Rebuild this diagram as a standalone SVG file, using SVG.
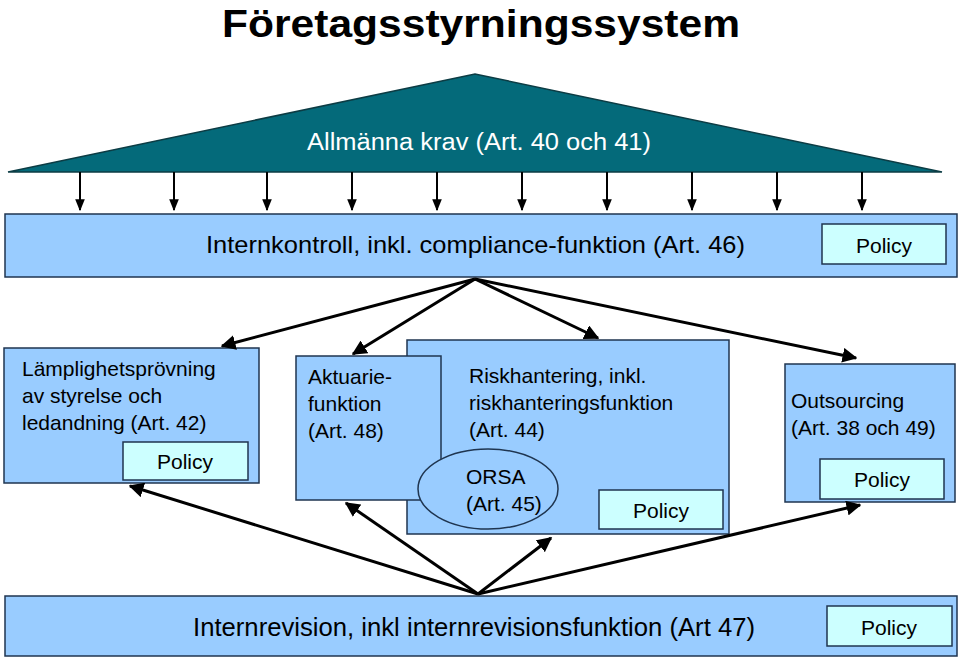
<svg xmlns="http://www.w3.org/2000/svg" width="960" height="661" viewBox="0 0 960 661">
<defs>
<style>
text{font-family:"Liberation Sans",Arial,sans-serif;fill:#000}
.box{fill:#99ccff;stroke:#1f3550;stroke-width:1.5}
.pol{fill:#ccffff;stroke:#1f3550;stroke-width:1.5}
.c line{stroke:#000;stroke-width:3;marker-end:url(#a)}
.s line{stroke:#000;stroke-width:2;marker-end:url(#b)}
</style>
<marker id="a" viewBox="0 0 10 10" refX="9" refY="5" markerWidth="5" markerHeight="5" orient="auto"><path d="M0,0L10,5L0,10z"/></marker>
<marker id="b" viewBox="0 0 10 10" refX="9" refY="5" markerWidth="6" markerHeight="6" orient="auto"><path d="M0,1L10,5L0,9z"/></marker>
</defs>
<rect width="960" height="661" fill="#fff"/>
<text x="222" y="37" font-size="39" font-weight="bold" textLength="518" lengthAdjust="spacingAndGlyphs">Företagsstyrningssystem</text>
<g id="allm">
<polygon points="8,172 475,74 942,172" fill="#046a7a" stroke="#0c3c44" stroke-width="1.5"/>
<text x="307" y="150" font-size="23" textLength="344" lengthAdjust="spacingAndGlyphs" style="fill:#fff">Allmänna krav (Art. 40 och 41)</text>
</g>
<g id="intern">
<rect class="box" x="5" y="214" width="952" height="63"/>
<text x="206" y="253" font-size="24" textLength="539" lengthAdjust="spacingAndGlyphs">Internkontroll, inkl. compliance-funktion (Art. 46)</text>
<rect class="pol" x="822" y="224" width="124" height="40"/>
<text x="884" y="253" font-size="21" text-anchor="middle">Policy</text>
</g>
<g id="lamp">
<rect class="box" x="4" y="348" width="255" height="135"/>
<text font-size="21"><tspan x="22" y="376">Lämplighetsprövning</tspan><tspan x="22" y="403">av styrelse och</tspan><tspan x="22" y="430">ledandning (Art. 42)</tspan></text>
<rect class="pol" x="123" y="442" width="125" height="38"/>
<text x="185" y="469" font-size="21" text-anchor="middle">Policy</text>
</g>
<g id="risk">
<rect class="box" x="407" y="340" width="322" height="194"/>
<text font-size="21"><tspan x="469" y="383">Riskhantering, inkl.</tspan><tspan x="469" y="410">riskhanteringsfunktion</tspan><tspan x="469" y="437">(Art. 44)</tspan></text>
<rect class="pol" x="599" y="490" width="124" height="39"/>
<text x="661" y="518" font-size="21" text-anchor="middle">Policy</text>
</g>
<g id="akt">
<rect class="box" x="296" y="356" width="145" height="144"/>
<text font-size="21"><tspan x="308" y="384">Aktuarie-</tspan><tspan x="308" y="411">funktion</tspan><tspan x="308" y="438">(Art. 48)</tspan></text>
</g>
<g id="orsa">
<ellipse class="box" cx="488" cy="489" rx="70" ry="40"/>
<text font-size="21"><tspan x="466" y="484">ORSA</tspan><tspan x="466" y="511">(Art. 45)</tspan></text>
</g>
<g id="outs">
<rect class="box" x="785" y="364" width="170" height="138"/>
<text font-size="21"><tspan x="791" y="408">Outsourcing</tspan><tspan x="791" y="435">(Art. 38 och 49)</tspan></text>
<rect class="pol" x="820" y="459" width="124" height="40"/>
<text x="882" y="487" font-size="21" text-anchor="middle">Policy</text>
</g>
<g id="revision">
<rect class="box" x="5" y="596" width="952" height="60"/>
<text x="193" y="636" font-size="25" textLength="562" lengthAdjust="spacingAndGlyphs">Internrevision, inkl internrevisionsfunktion (Art 47)</text>
<rect class="pol" x="827" y="606" width="125" height="40"/>
<text x="889" y="635" font-size="21" text-anchor="middle">Policy</text>
</g>
<g id="connectors">
<g class="s">
<line x1="80" y1="172" x2="80" y2="210"/><line x1="174" y1="172" x2="174" y2="210"/>
<line x1="267" y1="172" x2="267" y2="210"/><line x1="352" y1="172" x2="352" y2="210"/>
<line x1="437" y1="172" x2="437" y2="210"/><line x1="522" y1="172" x2="522" y2="210"/>
<line x1="607" y1="172" x2="607" y2="210"/><line x1="692" y1="172" x2="692" y2="210"/>
<line x1="777" y1="172" x2="777" y2="210"/><line x1="862" y1="172" x2="862" y2="210"/>
</g>
<g class="c">
<line x1="475" y1="279" x2="222" y2="346"/>
<line x1="475" y1="279" x2="353" y2="354"/>
<line x1="475" y1="279" x2="598" y2="338"/>
<line x1="475" y1="279" x2="856" y2="358"/>
<line x1="478" y1="594" x2="130" y2="486"/>
<line x1="478" y1="594" x2="346" y2="503"/>
<line x1="478" y1="594" x2="551" y2="538"/>
<line x1="478" y1="594" x2="860" y2="505"/>
</g>
</g>
</svg>
